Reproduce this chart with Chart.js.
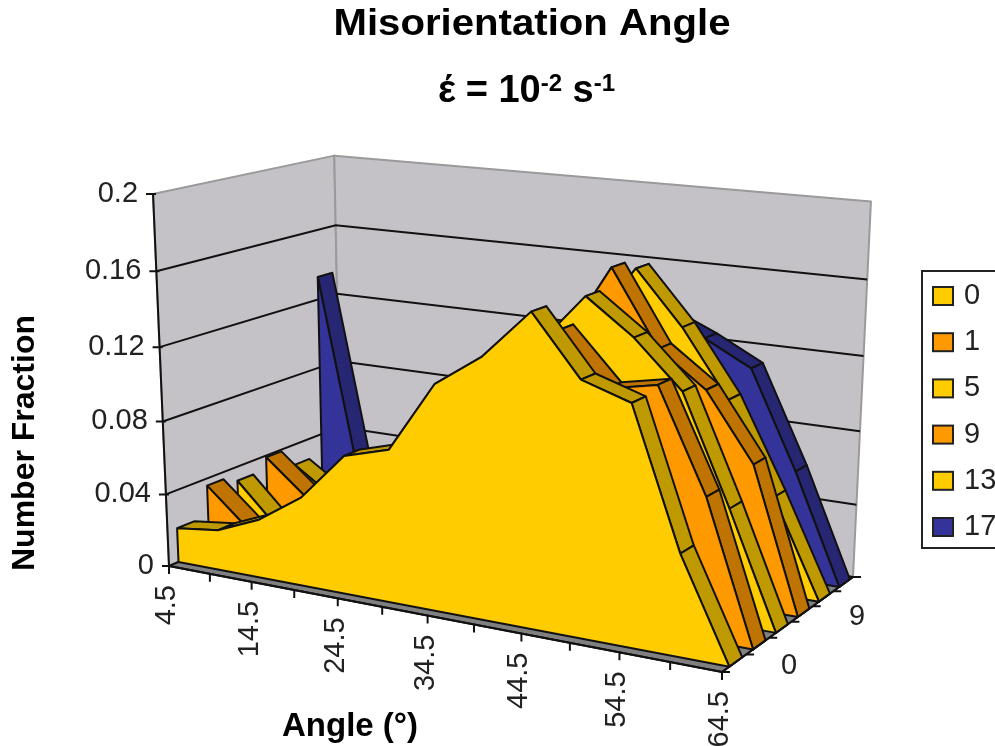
<!DOCTYPE html>
<html>
<head>
<meta charset="utf-8">
<title>Misorientation Angle</title>
<script src="https://cdn.jsdelivr.net/npm/chart.js@4"></script>
<style>
  body { margin: 0; background: #fff; }
  canvas { display: block; filter: blur(0.4px); }
</style>
</head>
<body>
<canvas id="chart" width="995" height="746"></canvas>
<script>
// values
const angleLabels = ['4.5', '9.5', '14.5', '19.5', '24.5', '29.5', '34.5', '39.5', '44.5', '49.5', '54.5', '59.5', '64.5'];
const seriesNames = ['0', '1', '5', '9', '13', '17'];
const yTicks = [0, 0.04, 0.08, 0.12, 0.16, 0.2];
const yMax = 0.2;

const strain0 = [0.019, 0.022, 0.032, 0.048, 0.074, 0.081, 0.118, 0.135, 0.160, 0.130, 0.122, 0.052, 0];
const strain1 = [0.036, 0.015, 0.022, 0.030, 0.050, 0.060, 0.085, 0.110, 0.146, 0.120, 0.125, 0.073, 0];
const strain5 = [0.032, 0.008, 0.018, 0.030, 0.048, 0.060, 0.090, 0.130, 0.158, 0.140, 0.116, 0.060, 0];
const strain9 = [0.039, 0.019, 0.020, 0.030, 0.050, 0.065, 0.090, 0.127, 0.168, 0.129, 0.111, 0.076, 0];
const strain13 = [0.028, 0.012, 0.020, 0.030, 0.050, 0.070, 0.100, 0.130, 0.163, 0.135, 0.100, 0.052, 0];
const strain17 = [0.133, 0.012, 0.020, 0.030, 0.050, 0.070, 0.100, 0.120, 0.135, 0.124, 0.111, 0.059, 0];
const allSeries = [strain0, strain1, strain5, strain9, strain13, strain17];

const faceColors = ['#FFCC00', '#FF9900', '#FFCC00', '#FF9900', '#FFCC00', '#333399'];
const topColors = ['#BF9900', '#BF7300', '#BF9900', '#BF7300', '#BF9900', '#262673'];
const WALL = '#C4C2C6', FLOOR = '#808080', TEXT = '#222';
const FONT = '"Liberation Sans", Arial, sans-serif';

// perspective camera of the 3D box: floor homography + vertical vanishing point
const floorCorners = [[169, 566], [722, 672], [853, 577], [341, 492]];
const verticalVP = [493, 8108], vpWeight = -0.047;

function makeCamera(q) {
  const [x0, y0] = q[0], [x1, y1] = q[1], [x2, y2] = q[2], [x3, y3] = q[3];
  const dx1 = x1 - x2, dy1 = y1 - y2, dx2 = x3 - x2, dy2 = y3 - y2;
  const sx = x0 - x1 + x2 - x3, sy = y0 - y1 + y2 - y3;
  const det = dx1 * dy2 - dx2 * dy1;
  const g = (sx * dy2 - dx2 * sy) / det, h = (dx1 * sy - sx * dy1) / det;
  const a = x1 - x0 + g * x1, b = x3 - x0 + h * x3;
  const d = y1 - y0 + g * y1, e = y3 - y0 + h * y3;
  return (u, v, w) => {
    const k = v * vpWeight;
    const W = g * u + h * w + 1 + k;
    return {
      x: (a * u + b * w + x0 + k * verticalVP[0]) / W,
      y: (d * u + e * w + y0 + k * verticalVP[1]) / W
    };
  };
}
const project = makeCamera(floorCorners);
const lastCat = angleLabels.length - 1;
const uOf = i => i / lastCat;
const vOf = val => val / yMax;

const SERIES_START = 0.05, SERIES_THICK = 0.09;
const wOf = k => SERIES_START + k / seriesNames.length;

function shape(points, fillColor, lineColor, lineWidth) {
  return {
    data: points.concat([points[0]]),
    showLine: true, pointRadius: 0, tension: 0, clip: false,
    fill: fillColor ? 'shape' : false,
    backgroundColor: fillColor || 'transparent',
    borderColor: lineColor, borderWidth: lineWidth,
    borderJoinStyle: 'round'
  };
}
function lines(points, lineColor, lineWidth) {
  return {
    data: points,
    showLine: true, pointRadius: 0, tension: 0, clip: false, spanGaps: false,
    fill: false, borderColor: lineColor, borderWidth: lineWidth
  };
}
const gap = { x: null, y: null };

const datasets = [];

// walls, floor
datasets.push(shape([project(0, 0, 0), project(0, 1, 0), project(0, 1, 1), project(0, 0, 1)], WALL, '#9a9a9a', 2));
datasets.push(shape([project(0, 0, 1), project(0, 1, 1), project(1, 1, 1), project(1, 0, 1)], WALL, '#9a9a9a', 2));

const gridPts = [];
yTicks.filter(t => t > 0 && t < yMax).forEach(t => {
  const v = vOf(t);
  gridPts.push(project(0, v, 0), project(0, v, 1), project(1, v, 1), gap);
});
datasets.push(lines(gridPts, '#111', 2));
datasets.push(shape([project(0, 0, 0), project(1, 0, 0), project(1, 0, 1), project(0, 0, 1)], FLOOR, '#111', 2));

// series back to front, top strips first, then the front face
for (let k = allSeries.length - 1; k >= 0; k--) {
  const vals = allSeries[k];
  const w = wOf(k);
  for (let i = 0; i < lastCat; i++) {
    datasets.push(shape([
      project(uOf(i), vOf(vals[i]), w),
      project(uOf(i + 1), vOf(vals[i + 1]), w),
      project(uOf(i + 1), vOf(vals[i + 1]), w + SERIES_THICK),
      project(uOf(i), vOf(vals[i]), w + SERIES_THICK)
    ], topColors[k], '#111', 2));
  }
  const face = [project(0, 0, w)];
  vals.forEach((val, i) => face.push(project(uOf(i), vOf(val), w)));
  face.push(project(1, 0, w));
  datasets.push(shape(face, faceColors[k], '#111', 2));
}

// axes and tick marks
const axisPts = [project(0, 0, 0), project(0, 1, 0), gap, project(0, 0, 0), project(1, 0, 0), project(1, 0, 1), gap];
yTicks.forEach(t => {
  const p = project(0, vOf(t), 0);
  axisPts.push({ x: p.x - 7, y: p.y }, { x: p.x + 3, y: p.y }, gap);
});
angleLabels.forEach((lab, i) => {
  const p = project(uOf(i), 0, 0);
  axisPts.push(p, { x: p.x, y: p.y + 8 }, gap);
});
seriesNames.forEach((lab, k) => {
  const p = project(1, 0, k / seriesNames.length);
  axisPts.push(p, { x: p.x + 8, y: p.y }, gap);
});
const last = project(1, 0, 1);
axisPts.push(last, { x: last.x + 8, y: last.y });
datasets.push(lines(axisPts, '#111', 2));

// all text and the legend box
const textPlugin = {
  id: 'chartText',
  afterDatasetsDraw(chart) {
    const ctx = chart.ctx;
    const sx = chart.scales.x, sy = chart.scales.y;
    const px = v => sx.getPixelForValue(v), py = v => sy.getPixelForValue(v);
    ctx.save();
    ctx.textBaseline = 'middle';

    // titles, the original is a little wider than the font
    ctx.fillStyle = '#000';
    ctx.textAlign = 'center';
    ctx.save();
    ctx.translate(px(532), py(25));
    ctx.scale(1.085, 1);
    ctx.font = 'bold 37px ' + FONT;
    ctx.fillText('Misorientation Angle', 0, 0);
    ctx.restore();

    ctx.textAlign = 'left';
    let tx = px(438);
    const subParts = [['έ = 10', 38, 92], ['-2', 24, 84], [' s', 38, 92], ['-1', 24, 84]];
    subParts.forEach(part => {
      ctx.font = 'bold ' + part[1] + 'px ' + FONT;
      ctx.fillText(part[0], tx, py(part[2]));
      tx += ctx.measureText(part[0]).width;
    });

    ctx.textAlign = 'center';
    ctx.font = 'bold 33px ' + FONT;
    ctx.fillText('Angle (°)', px(350), py(727));
    ctx.save();
    ctx.translate(px(25), py(443));
    ctx.rotate(-Math.PI / 2);
    ctx.font = 'bold 32px ' + FONT;
    ctx.fillText('Number Fraction', 0, 0);
    ctx.restore();

    // tick labels
    ctx.fillStyle = TEXT;
    ctx.font = '29px ' + FONT;
    ctx.textAlign = 'right';
    yTicks.forEach(t => {
      const p = project(0, vOf(t), 0);
      ctx.fillText(String(t), px(p.x - 15), py(p.y));
    });
    angleLabels.forEach((lab, i) => {
      if (i % 2) return;
      const p = project(uOf(i), 0, 0);
      ctx.save();
      ctx.translate(px(p.x - 2), py(p.y + 19));
      ctx.rotate(-Math.PI / 2);
      ctx.fillText(lab, 0, 0);
      ctx.restore();
    });
    ctx.textAlign = 'center';
    seriesNames.forEach((name, k) => {
      if (k % 3) return;
      const p = project(1, 0, (k + 0.5) / seriesNames.length);
      ctx.fillText(name, px(p.x + 55), py(p.y + 3));
    });

    // legend, running off the right edge like the original
    ctx.strokeStyle = '#222';
    ctx.lineWidth = 2;
    ctx.strokeRect(px(922), py(271), 90, 277);
    ctx.textAlign = 'left';
    seriesNames.forEach((name, k) => {
      const cy = 296 + k * 46.2;
      ctx.fillStyle = faceColors[k];
      ctx.fillRect(px(933), py(cy - 9), 20, 18);
      ctx.strokeStyle = '#222';
      ctx.strokeRect(px(933), py(cy - 9), 20, 18);
      ctx.fillStyle = TEXT;
      ctx.fillText(name, px(964), py(cy));
    });
    ctx.restore();
  }
};

new Chart(document.getElementById('chart').getContext('2d'), {
  type: 'scatter',
  data: { datasets: datasets.reverse() },
  options: {
    responsive: false,
    animation: false,
    layout: { padding: 0 },
    plugins: { legend: { display: false }, tooltip: { enabled: false } },
    scales: {
      x: { type: 'linear', min: 0, max: 995, display: false },
      y: { type: 'linear', min: 0, max: 746, reverse: true, display: false }
    }
  },
  plugins: [textPlugin]
});
</script>
</body>
</html>
